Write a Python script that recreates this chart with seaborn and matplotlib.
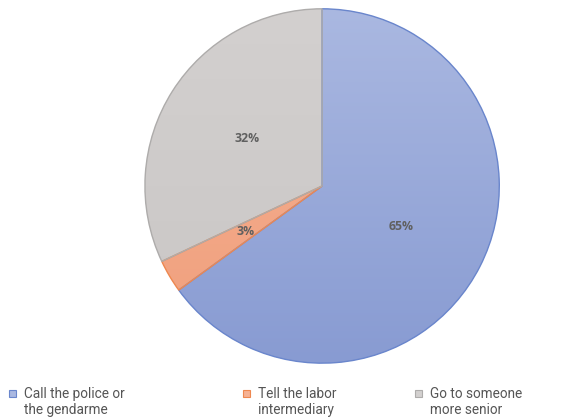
import numpy as np
import matplotlib
matplotlib.use("Agg")
import matplotlib.pyplot as plt
import seaborn as sns
from matplotlib.colors import LinearSegmentedColormap
from matplotlib.patches import Rectangle, Wedge

sns.set_theme(style="white")
plt.rcParams['font.family'] = ['Roboto', 'DejaVu Sans']

categories = ["Call the police or\nthe gendarme", "Tell the labor\nintermediary", "Go to someone\nmore senior"]
values = [65, 3, 32]
fill_top = ["#aab8e1", "#f6b294", "#d3d0cf"]
fill_bottom = ["#889bd2", "#f09f7c", "#c9c6c5"]
edge_colors = ["#6a86cc", "#ee8850", "#aeacab"]
legend_x = [0.041, 0.443, 0.738]

fig = plt.figure(figsize=(5.83, 4.17), dpi=100)
ax = fig.add_axes([0.247, 0.127, 0.611, 0.854])

wedges, texts, autotexts = ax.pie(
    values, startangle=90, counterclock=False, colors=fill_top,
    autopct="%1.0f%%", pctdistance=0.5,
    wedgeprops=dict(edgecolor="none", linewidth=0),
    textprops=dict(color="#606060", fontsize=8.8, fontweight="bold",
                   family=["Open Sans", "DejaVu Sans"]))

grad = np.linspace(0, 1, 256).reshape(-1, 1)
for w, c0, c1, ec in zip(wedges, fill_top, fill_bottom, edge_colors):
    cmap = LinearSegmentedColormap.from_list("g", [c1, c0])
    im = ax.imshow(grad, extent=(-1, 1, -1, 1), origin="lower", cmap=cmap,
                   aspect="auto", zorder=1)
    im.set_clip_path(w)
    w.set_zorder(0)
    ax.add_patch(Wedge(w.center, w.r, w.theta1, w.theta2, facecolor="none",
                       edgecolor=ec, linewidth=1.0, zorder=2))
for t in autotexts:
    t.set_zorder(5)
ax.set_aspect("equal")
ax.set_xlim(-1.005, 1.005)
ax.set_ylim(-1.005, 1.005)
ax.axis("off")

for x, lab, c, ec in zip(legend_x, categories, fill_top, edge_colors):
    fig.patches.append(Rectangle((x - 0.026, 0.048), 0.012, 0.017,
                                 transform=fig.transFigure, facecolor=c,
                                 edgecolor=ec, linewidth=0.8))
    fig.text(x, 0.071, lab, ha="left", va="top", fontsize=9.8,
             color="#555555", linespacing=1.12)

fig.savefig("out.png", dpi=100)
